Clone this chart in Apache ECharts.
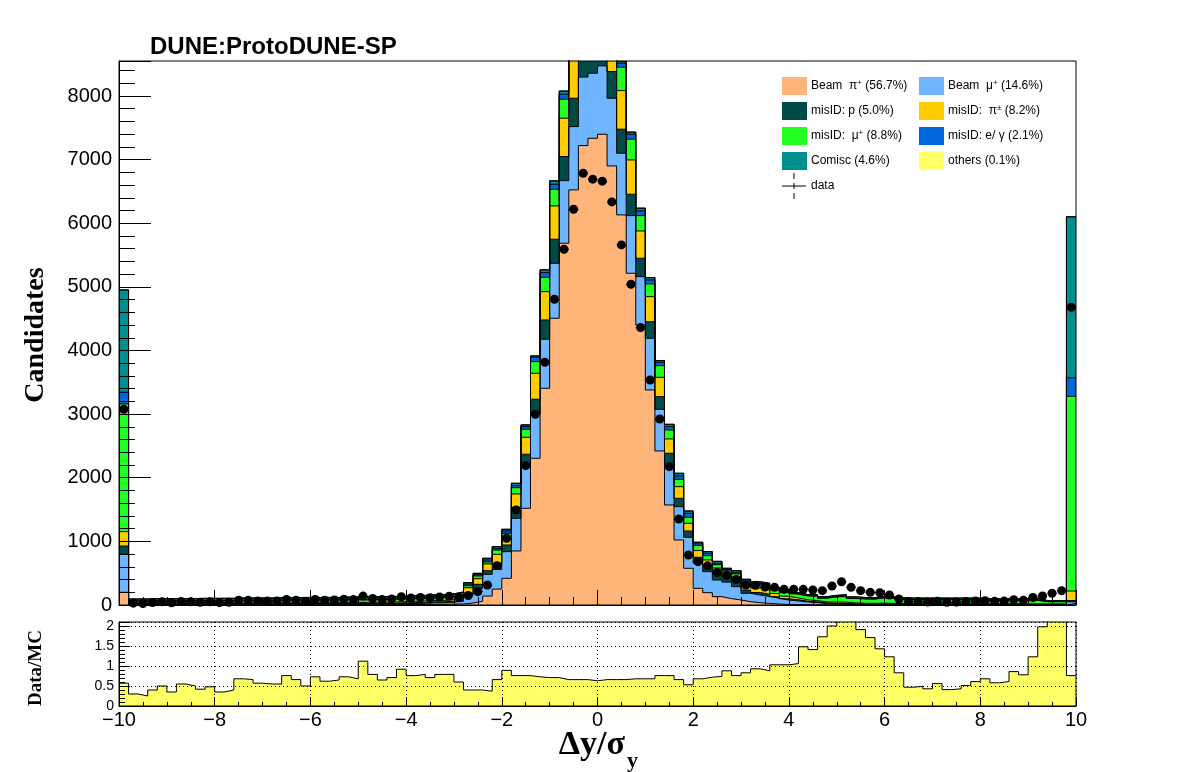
<!DOCTYPE html>
<html>
<head>
<meta charset="utf-8">
<script src="https://cdn.jsdelivr.net/npm/echarts@6.0.0/dist/echarts.min.js"></script>
<style>
  html, body { margin: 0; padding: 0; background: #fff; }
  #main { width: 1196px; height: 772px; }
</style>
</head>
<body>
<div id="main"></div>
<script>
// 100 bins of 0.2 from -10 to 10, one row = 10 bins
var beamPi = [
  200, 3, 3, 3, 3, 3, 3, 3, 3, 3,
  3, 3, 3, 3, 3, 3, 4, 4, 4, 4,
  4, 4, 4, 4, 4, 4, 5, 5, 5, 6,
  7, 8, 10, 10, 12, 15, 30, 60, 140, 250,
  420, 849, 1520, 2306, 3406, 4507, 5686, 6524, 7220, 7336,
  7399, 6901, 6131, 5214, 4402, 3380, 2421, 1572, 1022, 577,
  262, 194, 131, 100, 79, 52, 36, 25, 15, 8,
  4, 3, 2, 2, 2, 2, 1, 1, 1, 1,
  1, 1, 1, 1, 1, 1, 1, 1, 1, 1,
  1, 1, 1, 1, 1, 1, 1, 1, 1, 25
];
var beamMu = [
  597, 8, 8, 8, 8, 8, 8, 8, 8, 8,
  8, 8, 9, 9, 9, 9, 9, 9, 9, 10,
  10, 10, 10, 11, 11, 11, 12, 12, 14, 16,
  18, 20, 25, 25, 32, 45, 120, 202, 342, 310,
  418, 514, 670, 696, 771, 864, 984, 995, 1078, 1022,
  1074, 1064, 970, 906, 759, 812, 655, 644, 523, 487,
  393, 330, 262, 260, 209, 132, 120, 110, 90, 70,
  60, 45, 35, 20, 15, 12, 8, 6, 5, 5,
  4, 4, 3, 3, 3, 3, 3, 3, 3, 3,
  3, 3, 3, 3, 3, 3, 3, 3, 3, 25
];
var misP = [
  130, 8, 8, 8, 8, 8, 8, 8, 8, 8,
  8, 8, 8, 8, 8, 8, 9, 9, 9, 9,
  9, 9, 9, 10, 10, 10, 10, 10, 11, 12,
  13, 14, 15, 15, 17, 20, 37, 63, 57, 95,
  105, 173, 179, 232, 303, 378, 378, 446, 500, 550,
  480, 419, 377, 336, 289, 261, 199, 169, 132, 99,
  95, 95, 110, 80, 90, 50, 40, 35, 25, 20,
  18, 12, 12, 10, 10, 10, 8, 8, 8, 8,
  8, 8, 8, 8, 8, 8, 8, 8, 8, 8,
  7, 7, 7, 7, 7, 7, 6, 6, 6, 20
];
var misPi = [
  226, 12, 12, 12, 12, 12, 12, 12, 13, 13,
  13, 13, 13, 13, 13, 13, 14, 14, 14, 15,
  15, 15, 15, 16, 16, 16, 17, 17, 18, 19,
  20, 21, 22, 22, 25, 30, 84, 89, 106, 141,
  105, 209, 267, 408, 445, 523, 603, 800, 900, 900,
  850, 720, 607, 539, 429, 394, 304, 225, 183, 121,
  106, 89, 78, 60, 60, 75, 70, 65, 50, 40,
  28, 22, 20, 15, 20, 20, 15, 12, 12, 15,
  12, 10, 10, 10, 10, 10, 10, 10, 10, 10,
  8, 8, 8, 8, 8, 8, 6, 6, 6, 150
];
var misMu = [
  2007, 30, 30, 32, 32, 32, 32, 32, 34, 34,
  34, 34, 36, 36, 36, 36, 37, 37, 37, 38,
  38, 38, 38, 39, 39, 39, 40, 40, 41, 41,
  41, 41, 42, 42, 43, 45, 32, 42, 31, 68,
  79, 99, 126, 183, 226, 263, 299, 410, 450, 500,
  400, 380, 368, 326, 241, 199, 183, 141, 116, 95,
  78, 68, 53, 35, 50, 45, 50, 56, 55, 60,
  60, 60, 70, 60, 80, 90, 70, 67, 66, 83,
  79, 66, 62, 62, 62, 62, 62, 62, 62, 62,
  55, 55, 55, 55, 55, 55, 35, 35, 35, 3060
];
var misE = [
  184, 5, 5, 5, 5, 5, 5, 5, 5, 5,
  5, 5, 5, 5, 5, 5, 5, 5, 5, 5,
  5, 5, 5, 6, 6, 6, 6, 6, 6, 6,
  6, 6, 6, 6, 6, 8, 25, 20, 31, 26,
  36, 32, 41, 69, 73, 78, 78, 110, 120, 140,
  100, 90, 63, 78, 74, 63, 53, 52, 52, 62,
  27, 36, 21, 20, 25, 25, 25, 25, 20, 18,
  6, 5, 6, 5, 5, 6, 5, 5, 5, 5,
  5, 5, 5, 5, 5, 5, 5, 5, 5, 5,
  5, 5, 5, 5, 5, 5, 4, 4, 4, 290
];
var cosmic = [
  1608, 29, 29, 32, 32, 32, 32, 32, 34, 34,
  34, 34, 36, 36, 36, 36, 37, 37, 37, 38,
  38, 38, 38, 39, 39, 39, 40, 40, 40, 40,
  40, 40, 40, 40, 40, 42, 22, 22, 27, 27,
  27, 37, 27, 20, 42, 52, 47, 65, 80, 100,
  65, 46, 25, 32, 42, 36, 26, 37, 42, 37,
  25, 27, 31, 22, 27, 25, 25, 25, 23, 23,
  18, 17, 19, 20, 20, 22, 20, 20, 20, 20,
  20, 20, 20, 20, 20, 20, 20, 20, 20, 20,
  20, 20, 20, 20, 20, 20, 16, 16, 16, 2530
];
var others = [
  0, 0, 0, 0, 0, 0, 0, 0, 0, 0,
  0, 0, 0, 0, 0, 0, 0, 0, 0, 0,
  0, 0, 0, 0, 0, 0, 0, 0, 0, 0,
  0, 0, 0, 0, 0, 0, 0, 0, 0, 0,
  0, 0, 1, 2, 3, 3, 4, 4, 4, 4,
  4, 4, 3, 3, 2, 2, 1, 0, 0, 0,
  0, 0, 0, 0, 0, 0, 0, 0, 0, 0,
  0, 0, 0, 0, 0, 0, 0, 0, 0, 0,
  0, 0, 0, 0, 0, 0, 0, 0, 0, 0,
  0, 0, 0, 0, 0, 0, 0, 0, 0, 5
];
var dataVals = [
  3076, 29, 24, 40, 50, 35, 55, 50, 44, 50,
  37, 42, 75, 73, 63, 61, 63, 87, 76, 60,
  88, 74, 78, 91, 85, 140, 103, 85, 96, 129,
  110, 119, 114, 126, 138, 123, 150, 210, 314, 618,
  1048, 1493, 2190, 2998, 3815, 4805, 5592, 6220, 6786, 6693,
  6661, 6335, 5659, 5041, 4360, 3537, 2924, 2174, 1352, 786,
  681, 615, 510, 464, 400, 314, 310, 283, 278, 246,
  246, 246, 236, 225, 299, 366, 278, 225, 199, 194,
  157, 94, 52, 54, 47, 59, 43, 45, 54, 64,
  68, 58, 61, 82, 74, 117, 141, 184, 225, 4680
];
var ratioVals = [
  0.57, 0.30, 0.25, 0.40, 0.50, 0.35, 0.55, 0.50, 0.42, 0.48,
  0.35, 0.40, 0.68, 0.66, 0.57, 0.55, 0.55, 0.76, 0.66, 0.50,
  0.73, 0.62, 0.65, 0.73, 0.68, 1.12, 0.79, 0.65, 0.71, 0.92,
  0.76, 0.79, 0.71, 0.79, 0.79, 0.60, 0.40, 0.40, 0.37, 0.66,
  0.89, 0.76, 0.76, 0.73, 0.71, 0.71, 0.66, 0.66, 0.66, 0.63,
  0.66, 0.66, 0.66, 0.68, 0.68, 0.68, 0.76, 0.76, 0.66, 0.53,
  0.68, 0.72, 0.74, 0.88, 0.76, 0.83, 0.93, 0.88, 1.03, 1.03,
  1.06, 1.48, 1.41, 1.73, 2.00, 2.30, 2.20, 1.91, 1.71, 1.43,
  1.23, 0.83, 0.47, 0.49, 0.43, 0.56, 0.41, 0.43, 0.51, 0.61,
  0.68, 0.58, 0.61, 0.86, 0.78, 1.23, 1.98, 2.30, 3.00, 0.76
];
var xTicks = [-10, -8, -6, -4, -2, 0, 2, 4, 6, 8, 10];
var yTicks = [0, 1000, 2000, 3000, 4000, 5000, 6000, 7000, 8000];
var ratioTicks = [0, 0.5, 1, 1.5, 2];

// stack order, bottom first
var layers = [
  { vals: beamPi, color: '#FFB57A', label: '{t|Beam  π}{s|+}{t| (56.7%)}', col: 0, row: 0 },
  { vals: beamMu, color: '#6FB5FF', label: '{t|Beam  μ}{s|+}{t| (14.6%)}', col: 1, row: 0 },
  { vals: misP, color: '#004B47', label: '{t|misID: p (5.0%)}', col: 0, row: 1 },
  { vals: misPi, color: '#FFCC00', label: '{t|misID:  π}{s|±}{t| (8.2%)}', col: 1, row: 1 },
  { vals: misMu, color: '#22FF22', label: '{t|misID:  μ}{s|+}{t| (8.8%)}', col: 0, row: 2 },
  { vals: misE, color: '#0066DD', label: '{t|misID: e/ γ (2.1%)}', col: 1, row: 2 },
  { vals: cosmic, color: '#008F8F', label: '{t|Comisc (4.6%)}', col: 0, row: 3 },
  { vals: others, color: '#FFFF66', label: '{t|others (0.1%)}', col: 1, row: 3 }
];

var binW = 0.2;
function edge(k) { return (k * 2 - 100) / 10; }
function centre(k) { return (k * 2 - 99) / 10; }
function stepData(vals) {
  var pts = [];
  for (var k = 0; k <= vals.length; k++) {
    pts.push([edge(k), vals[Math.min(k, vals.length - 1)]]);
  }
  return pts;
}

// cumulative tops of the stack
var cum = [];
var run = beamPi.map(function () { return 0; });
layers.forEach(function (l) {
  run = run.map(function (v, i) { return v + l.vals[i]; });
  cum.push(run.slice());
});

var series = [];
// fills, drawn from the top of the stack downwards
for (var i = layers.length - 1; i >= 0; i--) {
  series.push({
    type: 'line', step: 'end', xAxisIndex: 0, yAxisIndex: 0,
    data: stepData(cum[i]), symbol: 'none', silent: true, z: 2,
    lineStyle: { width: 0 },
    areaStyle: { color: layers[i].color, opacity: 1 }
  });
}
// black outlines of each stack level
for (var j = 0; j < layers.length; j++) {
  series.push({
    type: 'line', step: 'end', xAxisIndex: 0, yAxisIndex: 0,
    data: stepData(cum[j]), symbol: 'none', silent: true, z: 3,
    lineStyle: { color: '#000', width: 1 }
  });
}
var dataPts = dataVals.map(function (v, k) { return [centre(k), v]; });
series.push({
  type: 'custom', xAxisIndex: 0, yAxisIndex: 0, z: 4, silent: true,
  data: dataPts,
  renderItem: function (params, api) {
    var a = api.coord([api.value(0) - binW / 2, api.value(1)]);
    var b = api.coord([api.value(0) + binW / 2, api.value(1)]);
    return { type: 'line', shape: { x1: a[0], y1: a[1], x2: b[0], y2: b[1] }, style: { stroke: '#000', lineWidth: 1 } };
  }
});
series.push({
  type: 'scatter', xAxisIndex: 0, yAxisIndex: 0, z: 5, silent: true,
  data: dataPts, symbol: 'circle', symbolSize: 9,
  itemStyle: { color: '#000', opacity: 1 }
});
// ratio panel
series.push({
  type: 'line', step: 'end', xAxisIndex: 1, yAxisIndex: 1,
  data: stepData(ratioVals), symbol: 'none', silent: true,
  lineStyle: { color: '#000', width: 1 },
  areaStyle: { color: '#FFFF66', opacity: 1 }
});

var sans = 'Liberation Sans, Arial, sans-serif';
var serif = 'Liberation Serif, Times New Roman, serif';

var graphics = [
  { type: 'text', x: 150, y: 47, style: { text: 'DUNE:ProtoDUNE-SP', font: 'bold 24px ' + sans, fill: '#000', verticalAlign: 'middle' } },
  { type: 'text', x: 36, y: 335, rotation: Math.PI / 2, style: { text: 'Candidates', font: 'bold 28px ' + serif, fill: '#000', align: 'center', verticalAlign: 'middle' } },
  { type: 'text', x: 36, y: 668, rotation: Math.PI / 2, style: { text: 'Data/MC', font: 'bold 19px ' + serif, fill: '#000', align: 'center', verticalAlign: 'middle' } },
  { type: 'text', x: 625, y: 745, style: { text: 'Δy/σ', font: 'bold 34px ' + serif, fill: '#000', align: 'right', verticalAlign: 'middle' } },
  { type: 'text', x: 627, y: 761, style: { text: 'y', font: 'bold 22px ' + serif, fill: '#000', align: 'left', verticalAlign: 'middle' } }
];
// legend
var legX = [782, 919];
layers.forEach(function (l) {
  var bx = legX[l.col], by = 77 + l.row * 25;
  graphics.push({ type: 'rect', shape: { x: bx, y: by, width: 25, height: 18 }, style: { fill: l.color } });
  graphics.push({
    type: 'text', x: bx + 29, y: by + 9,
    style: {
      text: l.label, verticalAlign: 'middle', fill: '#000',
      rich: {
        t: { fontSize: 12, fontFamily: sans, lineHeight: 14, fill: '#000' },
        s: { fontSize: 8, fontFamily: sans, lineHeight: 8, verticalAlign: 'top', fill: '#000' }
      }
    }
  });
});
graphics.push({ type: 'line', shape: { x1: 782, y1: 186, x2: 806, y2: 186 }, style: { stroke: '#000', lineWidth: 1 } });
graphics.push({ type: 'line', shape: { x1: 794, y1: 173, x2: 794, y2: 179 }, style: { stroke: '#000', lineWidth: 1 } });
graphics.push({ type: 'line', shape: { x1: 794, y1: 183, x2: 794, y2: 189 }, style: { stroke: '#000', lineWidth: 1 } });
graphics.push({ type: 'line', shape: { x1: 794, y1: 193, x2: 794, y2: 199 }, style: { stroke: '#000', lineWidth: 1 } });
graphics.push({ type: 'text', x: 811, y: 186, style: { text: 'data', font: '12px ' + sans, fill: '#000', verticalAlign: 'middle' } });

function inList(list, v) {
  return list.some(function (t) { return Math.abs(t - v) < 1e-6; });
}

var black = { color: '#000', width: 1 };
var dotted = { color: '#000', width: 1, type: [1, 3] };

var option = {
  animation: false,
  backgroundColor: '#fff',
  grid: [
    { left: 119, right: 120, top: 61, height: 544, show: true, borderColor: '#000', borderWidth: 1, backgroundColor: 'transparent', z: 10 },
    { left: 119, right: 120, top: 622, height: 84, show: true, borderColor: '#000', borderWidth: 1, backgroundColor: 'transparent', z: 10 }
  ],
  xAxis: [
    {
      type: 'value', gridIndex: 0, min: -10, max: 10, interval: 2, z: 10, position: 'bottom',
      axisLine: { onZero: false, lineStyle: black },
      axisTick: { inside: true, length: 15, lineStyle: black },
      minorTick: { show: true, splitNumber: 4, length: 8, lineStyle: black },
      axisLabel: { show: false },
      splitLine: { show: false }
    },
    {
      type: 'value', gridIndex: 1, min: -10, max: 10, interval: 2, z: 10, position: 'bottom',
      axisLine: { onZero: false, lineStyle: black },
      axisTick: { inside: true, length: 9, lineStyle: black },
      minorTick: { show: true, splitNumber: 4, length: 4, lineStyle: black },
      axisLabel: {
        fontSize: 20, fontFamily: sans, color: '#000', margin: 4,
        formatter: function (v) { return inList(xTicks, v) ? String(v).replace('-', '\u2212') : ''; }
      },
      splitLine: { show: true, lineStyle: dotted }
    }
  ],
  yAxis: [
    {
      type: 'value', gridIndex: 0, min: 0, max: 8550, interval: 1000, z: 10, position: 'left',
      axisLine: { show: true, onZero: false, lineStyle: black },
      axisTick: { inside: true, length: 32, lineStyle: black },
      axisLabel: {
        fontSize: 20, fontFamily: sans, color: '#000', margin: 7,
        formatter: function (v) { return inList(yTicks, v) ? String(v) : ''; }
      },
      splitLine: { show: false }
    },
    {
      type: 'value', gridIndex: 1, min: 0, max: 2.1, interval: 0.5, z: 10, position: 'left',
      axisLine: { show: true, onZero: false, lineStyle: black },
      axisTick: { inside: true, length: 11, lineStyle: black },
      axisLabel: {
        fontSize: 14, fontFamily: sans, color: '#000', margin: 5,
        formatter: function (v) { return inList(ratioTicks, v) ? String(v) : ''; }
      },
      splitLine: { show: true, lineStyle: dotted }
    },
    // minor ticks (every 200 and every 0.1)
    {
      type: 'value', gridIndex: 0, min: 0, max: 8550, interval: 200, z: 10, position: 'left', offset: 0,
      axisLine: { show: false, onZero: false }, axisLabel: { show: false }, splitLine: { show: false },
      axisTick: { inside: true, length: 16, lineStyle: black }
    },
    {
      type: 'value', gridIndex: 1, min: 0, max: 2.1, interval: 0.1, z: 10, position: 'left', offset: 0,
      axisLine: { show: false, onZero: false }, axisLabel: { show: false }, splitLine: { show: false },
      axisTick: { inside: true, length: 6, lineStyle: black }
    }
  ],
  graphic: graphics,
  series: series
};

var chart = echarts.init(document.getElementById('main'));
chart.setOption(option);
</script>
</body>
</html>
